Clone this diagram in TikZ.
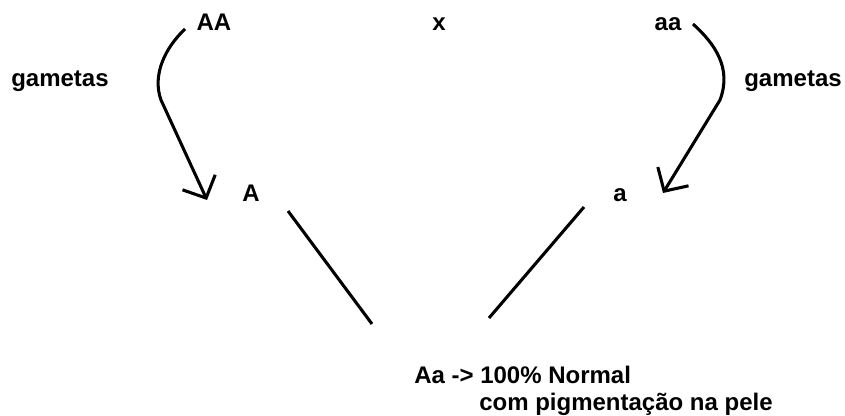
\documentclass[tikz,border=0pt]{standalone}
\usepackage{fontspec}
\setmainfont{Liberation Sans}
\usetikzlibrary{arrows.meta}

\begin{document}
\begin{tikzpicture}[
  x=0.75pt, y=-0.75pt,
  allele/.style={font=\bfseries\fontsize{18}{21}\selectfont, inner sep=0pt, anchor=base},
  gamete/.style={-{Straight Barb[length=13pt, width=27pt]}, line width=2.3pt},
  cross/.style={line width=2.3pt}
]
\useasboundingbox (0,0) rectangle (845,416);
% parents
\node[allele] (AA) at (214,31) {AA};
\node[allele] (x) at (439,31) {x};
\node[allele] (aa) at (668,31) {aa};
\node[allele] (gamL) at (60,87) {gametas};
\node[allele] (gamR) at (793,87) {gametas};
% gametes
\node[allele] (A) at (251,202) {A};
\node[allele] (a) at (620,202) {a};
% offspring
\node[allele, anchor=base west] (result) at (414,383) {Aa -> 100\% Normal};
\node[allele, anchor=base west] (resultb) at (479,410) {com pigmentação na pele};
\coordinate (AAout) at (185,29);
\coordinate (Ain) at (207,200);
\coordinate (aaout) at (693,24);
\coordinate (ain) at (663,193);
\coordinate (Aout) at (288,211);
\coordinate (Lin) at (372,324);
\coordinate (aout) at (584,207);
\coordinate (Rin) at (489,318);
\draw[gamete] (AAout) .. controls (165,48) and (152,75) .. (161,100) -- (Ain);
\draw[gamete] (aaout) .. controls (715,44) and (732,68) .. (720,100) -- (ain);
\draw[cross] (Aout) -- (Lin);
\draw[cross] (aout) -- (Rin);
\end{tikzpicture}
\end{document}
